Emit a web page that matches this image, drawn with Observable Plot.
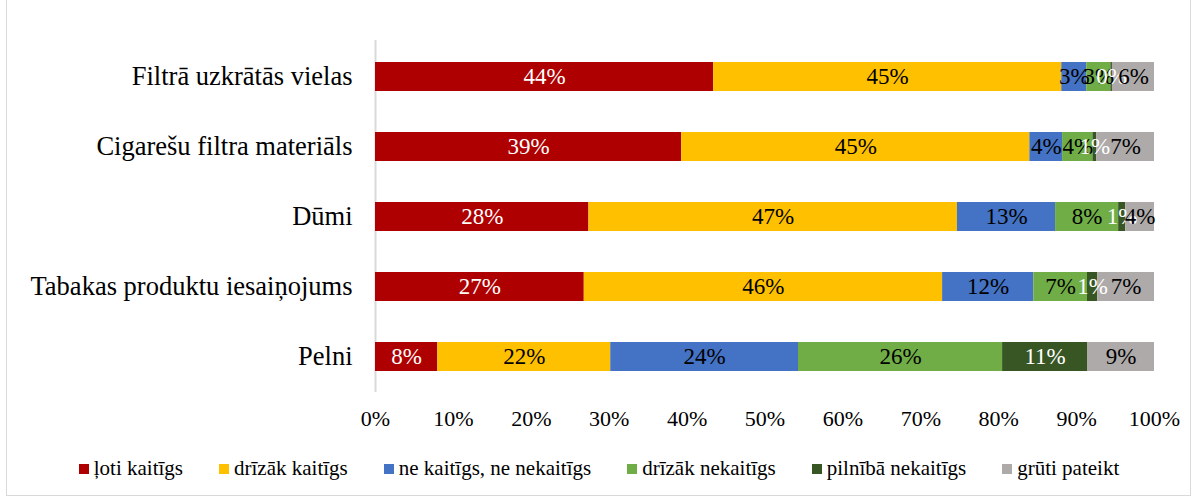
<!DOCTYPE html>
<html>
<head>
<meta charset="utf-8">
<script src="https://cdn.jsdelivr.net/npm/d3@7"></script>
<script src="https://cdn.jsdelivr.net/npm/@observablehq/plot@0.6"></script>
<style>
  html, body { margin: 0; padding: 0; background: #fff; }
  #chart { position: absolute; left: 0; top: 0; }
  #frame { position: absolute; left: 6px; top: -2px; width: 1185px; height: 498px; border: 1px solid #d9d9d9; box-sizing: border-box; pointer-events: none; }
  #legend { position: absolute; left: 0; top: 456px; width: 1198px; display: flex; justify-content: center; gap: 36px;
    font-family: "Liberation Serif", "Times New Roman", serif; font-size: 21px; color: #000; }
  .item { display: flex; align-items: center; gap: 5px; }
  .sw { width: 10px; height: 10px; display: inline-block; }
  #chart svg text { font-family: "Liberation Serif", "Times New Roman", serif; }
</style>
</head>
<body>
<div id="chart"></div>
<div id="legend"></div>
<div id="frame"></div>
<script>
const categories = ["Filtrā uzkrātās vielas", "Cigarešu filtra materiāls", "Dūmi", "Tabakas produktu iesaiņojums", "Pelni"];
const series = ["ļoti kaitīgs", "drīzāk kaitīgs", "ne kaitīgs, ne nekaitīgs", "drīzāk nekaitīgs", "pilnībā nekaitīgs", "grūti pateikt"];
const colors = ["#AE0000", "#FFC000", "#4472C4", "#70AD47", "#375623", "#AEAAAA"];
const labelColors = ["#fff", "#000", "#000", "#000", "#fff", "#000"];
// values per series, in category order (percent)
const vLoti      = [43.4, 39.3, 27.4, 26.8, 8.0];
const vDrizakK   = [44.7, 44.7, 47.3, 46.0, 22.2];
const vNeNe      = [3.2, 4.2, 12.6, 11.7, 24.1];
const vDrizakNek = [3.1, 3.9, 8.1, 6.9, 26.2];
const vPilniba   = [0.2, 0.5, 0.9, 1.3, 10.9];
const vGruti     = [5.4, 7.4, 3.7, 7.3, 8.6];
const labels = [
  ["44%", "39%", "28%", "27%", "8%"],
  ["45%", "45%", "47%", "46%", "22%"],
  ["3%", "4%", "13%", "12%", "24%"],
  ["3%", "4%", "8%", "7%", "26%"],
  ["0%", "1%", "1%", "1%", "11%"],
  ["6%", "7%", "4%", "7%", "9%"]
];
const xTicks = [0, 10, 20, 30, 40, 50, 60, 70, 80, 90, 100];

const allValues = [vLoti, vDrizakK, vNeNe, vDrizakNek, vPilniba, vGruti];
const data = [];
series.forEach((s, si) => {
  categories.forEach((c, ci) => {
    data.push({cat: c, series: s, si, value: allValues[si][ci], label: labels[si][ci]});
  });
});

const font = '"Liberation Serif", "Times New Roman", serif';

const chart = Plot.plot({
  width: 1198,
  height: 440,
  marginLeft: 375,
  marginRight: 44,
  marginTop: 40,
  marginBottom: 48,
  style: {fontFamily: font, color: "#000", background: "transparent"},
  x: {domain: [0, 100], ticks: xTicks, tickFormat: d => d + "%", label: null},
  y: {domain: categories, paddingInner: 0.59, paddingOuter: 0.29, label: null},
  color: {domain: series, range: colors},
  marks: [
    Plot.ruleX([0], {stroke: "#d9d9d9", strokeWidth: 2}),
    Plot.barX(data, Plot.stackX({x: "value", y: "cat", fill: "series", order: null})),
    Plot.text(data, Plot.stackX({x: "value", y: "cat", order: null,
      text: "label", fill: d => labelColors[d.si], fontSize: 23, fontFamily: font})),
    Plot.axisY({tickSize: 0, tickPadding: 23, fontSize: 26.5, fontFamily: font, label: null}),
    Plot.axisX({ticks: xTicks, tickFormat: d => d + "%", tickSize: 0, tickPadding: 18, fontSize: 22, fontFamily: font, label: null})
  ]
});
document.getElementById("chart").appendChild(chart);

const legend = document.getElementById("legend");
series.forEach((s, i) => {
  const it = document.createElement("div");
  it.className = "item";
  const sw = document.createElement("span");
  sw.className = "sw";
  sw.style.background = colors[i];
  const t = document.createElement("span");
  t.textContent = s;
  it.appendChild(sw); it.appendChild(t);
  legend.appendChild(it);
});
</script>
</body>
</html>
